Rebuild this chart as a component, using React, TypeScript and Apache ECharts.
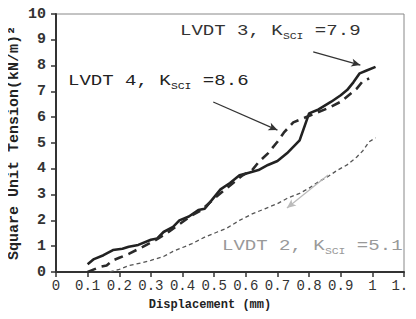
import React, { useEffect, useRef } from "react";
import * as echarts from "echarts";

const xTicks = [0, 0.1, 0.2, 0.3, 0.4, 0.5, 0.6, 0.7, 0.8, 0.9, 1, 1.1];

const lvdt3X = [0.10, 0.12, 0.15, 0.18, 0.21, 0.23, 0.26, 0.30, 0.32, 0.34, 0.37, 0.39, 0.42, 0.45, 0.47, 0.50, 0.52, 0.55, 0.58, 0.61, 0.64, 0.67, 0.70, 0.73, 0.75, 0.77, 0.79, 0.80, 0.83, 0.87, 0.90, 0.92, 0.94, 0.96, 0.98, 1.01];
const lvdt3Y = [0.30, 0.50, 0.65, 0.85, 0.90, 0.98, 1.05, 1.25, 1.30, 1.55, 1.75, 2.00, 2.15, 2.40, 2.45, 2.90, 3.20, 3.45, 3.75, 3.85, 3.95, 4.15, 4.30, 4.60, 4.85, 5.10, 5.80, 6.15, 6.30, 6.60, 6.85, 7.05, 7.35, 7.70, 7.80, 7.95];

const lvdt4X = [0.10, 0.12, 0.14, 0.16, 0.18, 0.20, 0.23, 0.27, 0.31, 0.35, 0.39, 0.43, 0.46, 0.50, 0.53, 0.56, 0.59, 0.62, 0.64, 0.67, 0.70, 0.72, 0.75, 0.78, 0.82, 0.86, 0.90, 0.93, 0.95, 0.97, 0.99];
const lvdt4Y = [0.00, 0.10, 0.20, 0.25, 0.45, 0.55, 0.70, 0.95, 1.20, 1.50, 1.85, 2.20, 2.40, 2.85, 3.15, 3.45, 3.75, 3.95, 4.25, 4.60, 5.05, 5.40, 5.80, 5.95, 6.15, 6.35, 6.60, 6.90, 7.10, 7.40, 7.50];

const lvdt2X = [0.17, 0.20, 0.23, 0.27, 0.30, 0.34, 0.37, 0.40, 0.43, 0.47, 0.51, 0.54, 0.58, 0.62, 0.66, 0.70, 0.73, 0.77, 0.80, 0.83, 0.86, 0.89, 0.92, 0.95, 0.97, 0.99, 1.01];
const lvdt2Y = [0.00, 0.10, 0.25, 0.35, 0.45, 0.60, 0.80, 0.95, 1.10, 1.35, 1.55, 1.70, 2.00, 2.25, 2.45, 2.65, 2.85, 3.05, 3.25, 3.50, 3.70, 3.95, 4.15, 4.45, 4.70, 5.05, 5.20];

const labels = [
  { name: "LVDT 3, K", sub: "SCI", val: " =7.9" },
  { name: "LVDT 4, K", sub: "SCI", val: " =8.6" },
  { name: "LVDT 2, K", sub: "SCI", val: " =5.1" },
];

// arrow annotations in data coordinates [from, to]
const arrow3 = [[0.813, 8.53], [0.962, 8.02]];
const arrow4 = [[0.497, 6.59], [0.70, 5.50]];
const arrow2 = [[0.86, 3.76], [0.73, 2.48]];

const FONT = "'Courier New', 'Liberation Mono', monospace";

const zip = (xs: number[], ys: number[]) => xs.map((x, i) => [x, ys[i]]);

function labelText(i: number, left: number, top: number, color: string) {
  const l = labels[i];
  return {
    type: "text",
    left,
    top,
    scaleX: 1.27,
    style: {
      text: `{m|${l.name}}{s|${l.sub}}{m|${l.val}}`,
      rich: {
        m: { fontFamily: FONT, fontSize: 15, fill: color, lineHeight: 18, verticalAlign: "middle" },
        s: { fontFamily: FONT, fontSize: 9, fill: color, lineHeight: 18, verticalAlign: "bottom", padding: [6, 0, 0, 0] },
      },
    },
  };
}

function arrowLine(pts: number[][], color: string) {
  return {
    silent: true,
    symbol: ["none", "arrow"],
    symbolSize: [6, 9],
    label: { show: false },
    lineStyle: { color, width: 1.2, type: "solid" },
    data: [[{ coord: pts[0] }, { coord: pts[1] }]],
  };
}

export default function App() {
  const ref = useRef<HTMLDivElement>(null);
  useEffect(() => {
    if (!ref.current) return;
    const chart = echarts.init(ref.current, undefined, { renderer: "svg" });
    chart.setOption({
      animation: false,
      backgroundColor: "#fff",
      grid: {
        left: 56, right: 12, top: 14, bottom: 47,
        show: true, borderColor: "#888", borderWidth: 1,
        containLabel: false, outerBoundsMode: "none",
      },
      xAxis: {
        type: "value",
        min: 0,
        max: 1.1,
        interval: 0.1,
        name: "Displacement (mm)",
        nameLocation: "middle",
        nameGap: 27,
        nameMoveOverlap: false,
        nameTextStyle: { fontFamily: FONT, fontSize: 12, color: "#222", fontWeight: "bold", padding: [0, 40, 0, 0] },
        axisLine: { lineStyle: { color: "#333", width: 2 } },
        axisTick: { show: true, length: 5, customValues: xTicks, lineStyle: { color: "#333", width: 1.5 } },
        splitLine: { show: false },
        axisLabel: {
          fontFamily: FONT,
          fontSize: 14,
          color: "#333",
          margin: 7,
          hideOverlap: false,
          customValues: xTicks,
          formatter: (v: number) => String(Math.round(v * 10) / 10),
        },
      },
      yAxis: {
        type: "value",
        min: 0,
        max: 10,
        interval: 1,
        name: "Square Unit Tension(kN/m)²",
        nameLocation: "middle",
        nameGap: 34,
        nameMoveOverlap: false,
        nameTextStyle: { fontFamily: FONT, fontSize: 15, color: "#222", fontWeight: "bold" },
        axisLine: { show: true, lineStyle: { color: "#333", width: 2 } },
        axisTick: { show: true, length: 5, lineStyle: { color: "#333", width: 1.5 } },
        splitLine: { show: false },
        axisLabel: { fontFamily: FONT, fontSize: 15, fontWeight: "bold", color: "#333", margin: 10 },
      },
      series: [
        {
          name: "LVDT 3",
          type: "line",
          data: zip(lvdt3X, lvdt3Y),
          showSymbol: false,
          lineStyle: { color: "#222", width: 2.6 },
          markLine: arrowLine(arrow3, "#333"),
        },
        {
          name: "LVDT 4",
          type: "line",
          data: zip(lvdt4X, lvdt4Y),
          showSymbol: false,
          lineStyle: { color: "#2a2a2a", width: 2.6, type: [9, 6] },
          markLine: arrowLine(arrow4, "#333"),
        },
        {
          name: "LVDT 2",
          type: "line",
          data: zip(lvdt2X, lvdt2Y),
          showSymbol: false,
          lineStyle: { color: "#555", width: 1.3, type: [4, 3] },
          markLine: arrowLine(arrow2, "#bbb"),
        },
      ],
      graphic: [
        labelText(0, 180, 24, "#333"),
        labelText(1, 68, 74, "#222"),
        labelText(2, 222, 239, "#999"),
      ],
    });
    return () => chart.dispose();
  }, []);
  return <div ref={ref} style={{ width: 416, height: 319, margin: -8 }} />;
}
